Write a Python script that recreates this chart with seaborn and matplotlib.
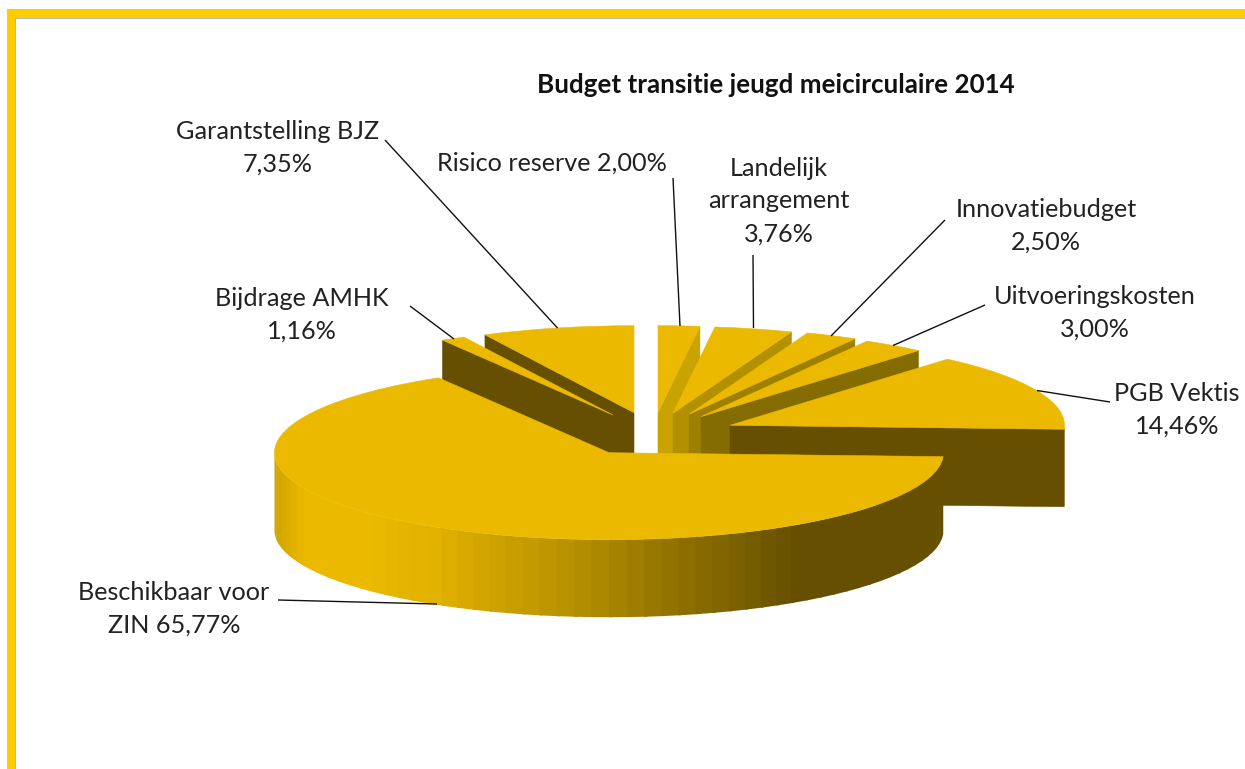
import numpy as np
import seaborn as sns
import matplotlib
matplotlib.use('Agg')
import matplotlib.pyplot as plt
from matplotlib.colors import to_rgb
from matplotlib.patches import Rectangle

# data
categories = ['Risico reserve', 'Landelijk\narrangement', 'Innovatiebudget', 'Uitvoeringskosten',
              'PGB Vektis', 'Beschikbaar voor\nZIN', 'Bijdrage AMHK', 'Garantstelling BJZ']
shares = [2.00, 3.76, 2.50, 3.00, 14.46, 65.77, 1.16, 7.35]
label_seps = [' ', '\n', '\n', '\n', '\n', ' ', '\n', '\n']

W, H = 1245, 769
RX, RY, DEPTH = 334.5, 87, 77.5
k = RX / RY

# layout in pixels
apex = [(658, 412.7), (673, 413.3), (689, 414.3), (701, 416.7),
        (730, 425.3), (609, 452.7), (613, 415), (634, 412.7)]
label_pos = [(552, 163), (779, 201), (1046, 226), (1095, 313),
             (1177, 410), (174, 609), (302, 315), (278, 148)]
leaders = [((673, 178), (680, 326)), ((753, 255), (753.5, 328)), ((945, 220), (831, 336)),
           ((985, 305), (893, 345.5)), ((1110, 402), (1037, 390.5)), ((278, 600), (437, 604)),
           ((410, 306), (454, 339)), ((385, 140), (557.5, 328))]
paint_order = [7, 6, 0, 1, 2, 3, 4, 5]

top_color = '#ebba00'
face_colors = ['#c9a400', '#b39000', '#9e8000', '#856c00', '#665000', '#665000', '#665000', '#665000']
grad_pos = [-1, -.953, -.909, -.73, -.64, -.514, -.326, -.146, 0, .152, .332, .511, .571, 1]
grad_col = ['#cfa500', '#dcae00', '#ebba00', '#ebba00', '#e6b500', '#e2b200', '#cba000',
            '#bb9400', '#a88500', '#967600', '#806500', '#6b5400', '#665000', '#665000']
grad_rgb = np.array([to_rgb(c) for c in grad_col])

sns.set_theme(style='white')
plt.rcParams['font.family'] = ['Lato', 'DejaVu Sans']

fig = plt.figure(figsize=(W / 100, H / 100), dpi=100, facecolor='white')
ax = fig.add_axes([0, 0, 1, 1], zorder=1)
wedges, _ = ax.pie(shares, startangle=90, counterclock=False, radius=RX,
                   colors=[top_color] * len(shares), frame=True,
                   wedgeprops={'edgecolor': top_color, 'linewidth': 0.4})
ax.set_aspect('auto')
ax.set_xlim(0, W)
ax.set_ylim(0, H * k)
ax.set_axis_off()

d = DEPTH * k
for z, i in enumerate(paint_order):
    w = wedges[i]
    cx, cy = apex[i][0], (H - apex[i][1]) * k
    w.set_center((cx, cy))
    w.set_zorder(10 + 2 * z + 1)
    zw = 10 + 2 * z
    # cut faces
    for t, side in ((w.theta1, 1), (w.theta2, -1)):
        if side * np.cos(np.radians(t)) > 1e-6:
            rx = cx + RX * np.cos(np.radians(t))
            ry = cy + RX * np.sin(np.radians(t))
            ax.fill([cx, rx, rx, cx], [cy, ry, ry - d, cy - d], color=face_colors[i],
                    linewidth=0.4, zorder=zw)
    # outer wall, bands overlap a little so no seams show
    a, b = max(w.theta1, -180), min(w.theta2, 0)
    if a < b:
        edges = np.append(np.arange(a, b, 3.0), b)
        for t0, t1 in zip(edges[:-1], edges[1:]):
            tt = np.radians(np.linspace(t0, min(t1 + 0.6, b), 8))
            xs = cx + RX * np.cos(tt)
            ys = cy + RX * np.sin(tt)
            m = np.cos(np.radians((t0 + t1) / 2))
            col = [np.interp(m, grad_pos, grad_rgb[:, c]) for c in range(3)]
            ax.fill_between(xs, ys, ys - d, facecolor=col, edgecolor='none', zorder=zw)

# overlay in pixels: frame, leaders, text
ov = fig.add_axes([0, 0, 1, 1], zorder=2)
ov.patch.set_alpha(0)
ov.set_xlim(0, W)
ov.set_ylim(H, 0)
ov.set_axis_off()

ov.add_patch(Rectangle((15, 17), W, 2, color='#b4b4b4', lw=0))
ov.add_patch(Rectangle((15, 17), 1.2, H, color='#b4b4b4', lw=0))
ov.add_patch(Rectangle((7, 9), W, 8.5, color='#ffcc00', lw=0))
ov.add_patch(Rectangle((7, 9), 8.4, H, color='#ffcc00', lw=0))

for (p0, p1) in leaders:
    ov.plot([p0[0], p1[0]], [p0[1], p1[1]], color='#111111', lw=1.0, solid_capstyle='butt')

for name, sep, val, pos in zip(categories, label_seps, shares, label_pos):
    txt = name + sep + f'{val:.2f}%'.replace('.', ',')
    ov.text(pos[0], pos[1], txt, ha='center', va='center', fontsize=18.2, color='#222222',
            linespacing=1.52)

ov.text(776, 85, 'Budget transitie jeugd meicirculaire 2014', ha='center', va='center',
        fontsize=18.7, fontweight='bold', color='#111111')

fig.savefig('out.png', dpi=100)
